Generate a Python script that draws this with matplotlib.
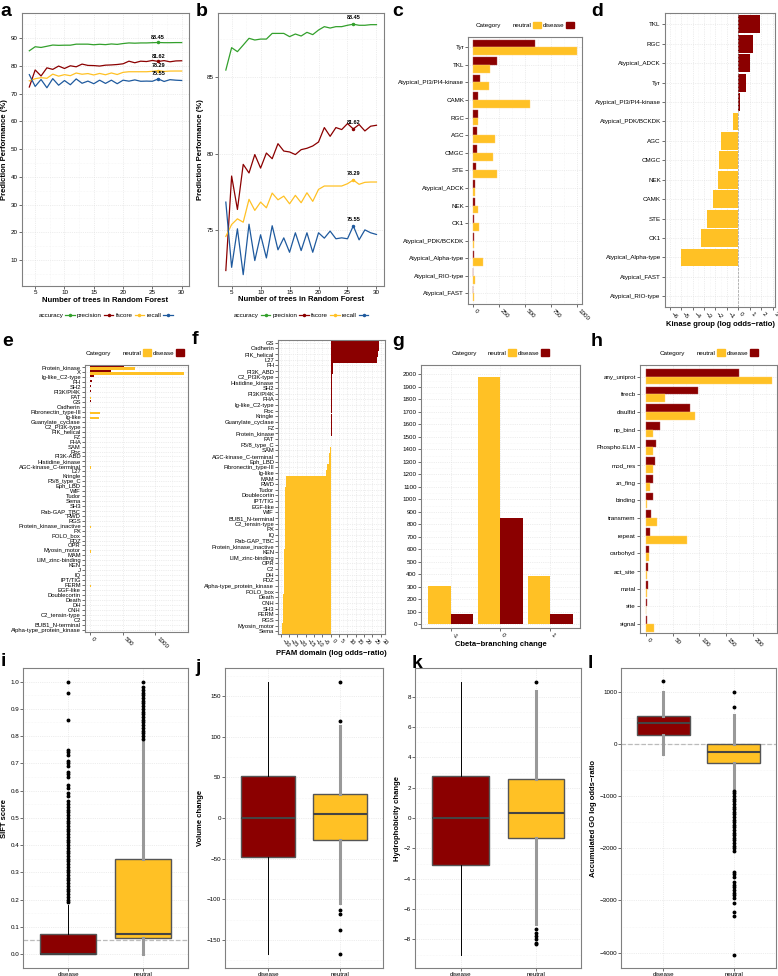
import numpy as np
import matplotlib
matplotlib.use("Agg")
import matplotlib.pyplot as plt
from matplotlib.patches import Patch
from matplotlib.lines import Line2D
from matplotlib.ticker import AutoMinorLocator, MultipleLocator

plt.rcParams['font.family'] = ['Liberation Sans', 'DejaVu Sans']

W, H = 778, 976
RED = '#8B0000'
YEL = '#FFC125'
GREEN = '#33A02C'
BLUE = '#1F5A9E'

# ---- a/b: prediction performance vs number of trees ----
n_trees = [4, 5, 6, 7, 8, 9, 10, 11, 12, 13, 14, 15, 16, 17, 18, 19, 20, 21, 22, 23, 24, 25, 26, 27, 28, 29, 30]
accuracy = [85.46, 86.92, 86.66, 87.09, 87.53, 87.42, 87.48, 87.48, 87.85, 87.85, 87.85, 87.64, 87.81, 87.68,
            87.92, 87.77, 88.07, 88.29, 88.20, 88.29, 88.29, 88.38, 88.45, 88.38, 88.38, 88.42, 88.42]
precision = [72.39, 78.55, 76.37, 79.31, 78.75, 79.95, 79.07, 80.05, 79.68, 80.66, 80.18, 80.12, 79.95, 80.27,
             80.36, 80.51, 80.77, 81.71, 81.14, 81.71, 81.58, 81.97, 81.62, 81.91, 81.49, 81.80, 81.86]
fscore = [74.61, 75.39, 75.76, 75.54, 77.03, 76.31, 76.85, 76.48, 77.44, 77.00, 77.24, 76.74, 77.29, 76.81,
          77.46, 76.90, 77.68, 77.90, 77.90, 77.90, 77.90, 78.05, 78.29, 78.01, 78.14, 78.16, 78.16]
recall = [76.85, 72.60, 75.11, 72.12, 75.41, 73.04, 74.72, 73.21, 75.31, 73.74, 74.52, 73.58, 74.85, 73.69,
          74.85, 73.58, 74.85, 74.50, 74.96, 74.46, 74.52, 74.46, 75.30, 74.39, 75.04, 74.85, 74.74]
best_tree = 26
best_text = ['88.45', '81.62', '78.29', '75.55']

# ---- c/d: kinase groups ----
kin_groups = ['Tyr', 'TKL', 'Atypical_PI3/PI4-kinase', 'CAMK', 'RGC', 'AGC', 'CMGC', 'STE', 'Atypical_ADCK',
              'NEK', 'CK1', 'Atypical_PDK/BCKDK', 'Atypical_Alpha-type', 'Atypical_RIO-type', 'Atypical_FAST']
kin_disease = [593, 231, 67, 48, 42, 32, 32, 22, 16, 10, 6, 5, 5, 0, 0]
kin_neutral = [994, 160, 151, 542, 45, 208, 189, 231, 19, 48, 58, 8, 90, 19, 5]

kin_or_groups = ['TKL', 'RGC', 'Atypical_ADCK', 'Tyr', 'Atypical_PI3/PI4-kinase', 'Atypical_PDK/BCKDK', 'AGC',
                 'CMGC', 'NEK', 'CAMK', 'STE', 'CK1', 'Atypical_Alpha-type', 'Atypical_FAST', 'Atypical_RIO-type']
kin_logodds = [1.90, 1.28, 1.04, 0.64, 0.12, -0.46, -1.54, -1.65, -1.77, -2.23, -2.72, -3.30, -5.04, 0, 0]

# ---- e/f: PFAM domains ----
e_domains = ['Protein_kinase', 'X', 'Ig-like_C2-type', 'PH', 'SH2', 'PI3K/PI4K', 'FAT', 'GS', 'Cadherin',
             'Fibronectin_type-III', 'Ig-like', 'Guanylate_cyclase', 'C2_PI3K-type', 'PIK_helical', 'FZ', 'FHA',
             'SAM', 'Roc', 'PI3K-ABD', 'Histidine_kinase', 'AGC-kinase_C-terminal', 'L27', 'Kringle',
             'F5/8_type_C', 'Eph_LBD', 'WIF', 'Tudor', 'Sema', 'SH3', 'Rab-GAP_TBC', 'RWD', 'RGS',
             'Protein_kinase_inactive', 'PX', 'POLO_box', 'PDZ', 'OPR', 'Myosin_motor', 'MAM', 'LIM_zinc-binding',
             'KEN', 'J', 'IQ', 'IPT/TIG', 'FERM', 'EGF-like', 'Doublecortin', 'Death', 'DH', 'CNH',
             'C2_tensin-type', 'C2', 'BUB1_N-terminal', 'Alpha-type_protein_kinase']
e_disease = [525, 325, 70, 30, 25, 22, 10, 12, 10, 5, 5, 8, 8, 8, 5, 5, 5, 5, 5, 5, 5, 5, 3, 3, 2,
             0, 0, 0, 0, 0, 0, 0, 0, 0, 0, 0, 0, 0, 0, 0, 0, 0, 0, 0, 0, 0, 0, 0, 0, 0, 0, 0, 0, 0]
e_neutral = [690, 1430, 10, 5, 5, 5, 20, 0, 0, 150, 140, 2, 2, 0, 2, 5, 8, 3, 3, 2, 12, 0, 2, 3, 10,
             5, 4, 10, 8, 6, 5, 8, 12, 6, 10, 7, 5, 12, 6, 7, 5, 4, 6, 7, 12, 6, 6, 8, 5, 8, 6, 5, 4, 5]

f_domains = ['GS', 'Cadherin', 'PIK_helical', 'L27', 'PH', 'PI3K_ABD', 'C2_PI3K-type', 'Histidine_kinase', 'SH2',
             'PI3K/PI4K', 'FHA', 'Ig-like_C2-type', 'Roc', 'Kringle', 'Guanylate_cyclase', 'FZ', 'Protein_kinase',
             'FAT', 'F5/8_type_C', 'SAM', 'AGC-kinase_C-terminal', 'Eph_LBD', 'Fibronectin_type-III', 'Ig-like',
             'MAM', 'RWD', 'Tudor', 'Doublecortin', 'IPT/TIG', 'EGF-like', 'WIF', 'BUB1_N-terminal',
             'C2_tensin-type', 'PX', 'IQ', 'Rab-GAP_TBC', 'Protein_kinase_inactive', 'KEN', 'LIM_zinc-binding',
             'OPR', 'C2', 'DH', 'PDZ', 'Alpha-type_protein_kinase', 'POLO_box', 'Death', 'CNH', 'SH3', 'FERM',
             'RGS', 'Myosin_motor', 'Sema']
f_logodds = [29.1, 28.7, 28.3, 27.5, 1.2, 1.1, 1.0, 1.0, 0.9, 0.9, 0.8, 0.8, 0.8, 0.7, 0.7, 0.6, 0.5,
             0.1, -0.1, -0.2, -0.8, -1.2, -2.0, -2.6,
             -27.1, -27.1, -27.2, -27.2, -27.3, -27.3, -27.3, -27.4, -27.5, -27.6, -27.6, -27.7, -27.7, -27.8,
             -27.8, -27.9, -27.9, -28.0, -28.1, -28.2, -28.3, -28.4, -28.5, -28.6, -28.8, -28.9, -29.1, -29.3]

# ---- g: cbeta branching ----
cb_change = ['-1', '0', '1']
cb_neutral = [305, 1975, 385]
cb_disease = [85, 850, 85]

# ---- h: uniprot features ----
feat_names = ['any_uniprot', 'firecb', 'disulfid', 'np_bind', 'Phospho.ELM', 'mod_res', 'zn_fing', 'binding',
              'transmem', 'repeat', 'carbohyd', 'act_site', 'metal', 'site', 'signal']
feat_disease = [174, 98, 82.5, 26, 19, 16, 14, 13, 9, 8, 6, 4, 3, 2, 2]
feat_neutral = [236, 36, 92.5, 14, 14, 12.5, 7.5, 2, 20, 77.5, 5, 2.5, 1, 0.5, 15.6]

# ---- i-l: boxplot summaries (disease, neutral) ----
box_groups = ['disease', 'neutral']
sift_q = [[0.0, 0.0, 0.0, 0.075, 0.18], [0.0, 0.06, 0.075, 0.35, 0.78]]  # whislo, q1, med, q3, whishi
sift_out_dis = [0.19, 0.20, 0.21, 0.22, 0.23, 0.24, 0.25, 0.26, 0.27, 0.28, 0.29, 0.30, 0.31, 0.32, 0.33,
                0.34, 0.35, 0.36, 0.37, 0.38, 0.39, 0.40, 0.41, 0.42, 0.43, 0.44, 0.45, 0.46, 0.47, 0.48,
                0.49, 0.50, 0.51, 0.52, 0.53, 0.54, 0.55, 0.56, 0.58, 0.59, 0.61, 0.62, 0.65, 0.66, 0.67,
                0.69, 0.70, 0.71, 0.73, 0.74, 0.75, 0.86, 0.96, 1.00]
sift_out_neu = [0.79, 0.80, 0.81, 0.82, 0.83, 0.84, 0.85, 0.86, 0.87, 0.88, 0.89, 0.90, 0.91, 0.92, 0.93,
                0.94, 0.95, 0.96, 0.97, 0.98, 1.00]
vol_q = [[-167, -48, 0, 51, 167], [-105, -27, 5, 30, 113]]
vol_out_dis = []
vol_out_neu = [119, 167, -113, -118, -138, -167]
hyd_q = [[-9.0, -3.1, 0.0, 2.8, 9.0], [-7.0, -1.3, 0.35, 2.6, 8.4]]
hyd_out_dis = []
hyd_out_neu = [9.0, -7.3, -7.6, -7.8, -8.0, -8.2, -8.3]
go_q = [[-200, 170, 400, 530, 1000], [-900, -370, -160, 0, 550]]
go_out_dis = [1200]
go_out_neu = [700, 1000, -900, -950, -1000, -1050, -1100, -1150, -1200, -1250, -1300, -1350, -1400, -1450,
              -1500, -1550, -1600, -1650, -1700, -1750, -1800, -1850, -1900, -1950, -2000, -2050, -2450, -2500,
              -2550, -2650, -2700, -2750, -2800, -2850, -2900, -2950, -3050, -3230, -3300, -4050]


def px(x0, y0, x1, y1):
    # pixel box -> figure fraction rect
    return [x0 / W, 1 - y1 / H, (x1 - x0) / W, (y1 - y0) / H]


def style(ax, xminor=True, yminor=True):
    for s in ax.spines.values():
        s.set_color('#808080')
        s.set_linewidth(0.8)
    ax.tick_params(length=2, width=0.5, color='#333333', labelsize=4.5, pad=1)
    if xminor:
        ax.xaxis.set_minor_locator(AutoMinorLocator(2))
    if yminor:
        ax.yaxis.set_minor_locator(AutoMinorLocator(2))
    ax.tick_params(which='minor', length=0)
    ax.grid(True, which='major', color='#DDDDDD', lw=0.5, ls=':')
    ax.grid(True, which='minor', color='#EEEEEE', lw=0.4, ls=':')
    ax.set_axisbelow(True)


def letter(x, y, s):
    fig.text(x / W, 1 - y / H, s, fontsize=14, fontweight='bold', va='center', ha='left')


def cat_legend(x, y):
    hs = [Patch(alpha=0), Patch(facecolor=YEL, edgecolor=YEL), Patch(facecolor=RED, edgecolor=RED)]
    fig.legend(hs, ['Category', 'neutral', 'disease'], loc='center', bbox_to_anchor=(x / W, 1 - y / H),
               ncol=3, markerfirst=False, frameon=False, fontsize=4.5, handlelength=1.3, handleheight=1.3,
               handletextpad=0.2, columnspacing=0.3)


fig = plt.figure(figsize=(W / 100, H / 100), dpi=100)

# ---------------- a & b ----------------
series = [(accuracy, GREEN, 'accuracy'), (precision, RED, 'precision'), (fscore, YEL, 'fscore'),
          (recall, BLUE, 'recall')]
rects = [px(21.7, 12.7, 189.3, 286), px(218.3, 12.7, 384, 285.7)]
for k, r in enumerate(rects):
    ax = fig.add_axes(r)
    style(ax)
    for (vals, col, name), lab in zip(series, best_text):
        ax.plot(n_trees, vals, color=col, lw=0.9)
        bi = n_trees.index(best_tree)
        ax.plot(best_tree, vals[bi], 'o', color=col, ms=1.5)
        off = 1.0 if k == 0 else 0.25
        ax.text(best_tree, vals[bi] + off, lab, fontsize=4, ha='center', va='bottom', fontweight='bold')
    ax.set_xlim(2.7, 31.3)
    ax.xaxis.set_major_locator(MultipleLocator(5))
    if k == 0:
        ax.set_ylim(0.6, 99.2)
        ax.yaxis.set_major_locator(MultipleLocator(10))
    else:
        ax.set_ylim(71.4, 89.2)
        ax.yaxis.set_major_locator(MultipleLocator(5))
    ax.set_xlabel('Number of trees in Random Forest', fontsize=5.5, fontweight='bold', labelpad=1)
    ax.set_ylabel('Prediction Performance (%)', fontsize=5.5, fontweight='bold', labelpad=2)
    hs = [Line2D([], [], color=c, lw=0.9, marker='o', ms=1.5) for _, c, _ in series]
    cx = (r[0] + r[2] / 2)
    fig.legend(hs, [n for _, _, n in series], loc='center', bbox_to_anchor=(cx, 1 - 315 / H), ncol=4,
               markerfirst=False, frameon=False, fontsize=4.5, handlelength=1.5, handletextpad=0.3,
               columnspacing=0.4)

# ---------------- c ----------------
ax = fig.add_axes(px(468.3, 36.7, 581.7, 304))
style(ax, yminor=False)
yy = np.arange(len(kin_groups))
ax.barh(yy - 0.22, kin_disease, height=0.44, color=RED, edgecolor='#b05050', lw=0.3)
ax.barh(yy + 0.22, kin_neutral, height=0.44, color=YEL, edgecolor='#ffd070', lw=0.3)
ax.set_yticks(yy)
ax.set_yticklabels(kin_groups)
ax.set_ylim(len(kin_groups) - 0.4, -0.6)
ax.set_xlim(-50, 1044)
ax.set_xticks([0, 250, 500, 750, 1000])
plt.setp(ax.get_xticklabels(), rotation=-45, ha='left', va='top')
cat_legend(525, 25)

# ---------------- d ----------------
ax = fig.add_axes(px(665, 12.7, 775, 307))
style(ax, yminor=False)
yy = np.arange(len(kin_or_groups))
cols = [RED if v > 0 else YEL for v in kin_logodds]
ax.barh(yy, kin_logodds, height=0.92, color=cols)
ax.axvline(0, color='#999999', lw=0.5, ls='--')
ax.set_yticks(yy)
ax.set_yticklabels(kin_or_groups)
ax.set_ylim(len(kin_or_groups) - 0.45, -0.6)
ax.set_xlim(-6.4, 3.2)
ax.set_xticks(range(-6, 4))
plt.setp(ax.get_xticklabels(), rotation=-45, ha='left', va='top')
ax.set_xlabel('Kinase group (log odds\u2212ratio)', fontsize=5.5, fontweight='bold', labelpad=1)

# ---------------- e ----------------
ax = fig.add_axes(px(85, 365, 188.3, 632))
style(ax, yminor=False)
yy = np.arange(len(e_domains))
ax.barh(yy - 0.22, e_disease, height=0.44, color=RED)
ax.barh(yy + 0.22, e_neutral, height=0.44, color=YEL)
ax.set_yticks(yy)
ax.set_yticklabels(e_domains, fontsize=4.2)
ax.set_ylim(len(e_domains) - 0.5, -0.5)
ax.set_xlim(-72, 1500)
ax.set_xticks([0, 500, 1000])
plt.setp(ax.get_xticklabels(), rotation=-45, ha='left', va='top')
cat_legend(135, 352.7)

# ---------------- f ----------------
ax = fig.add_axes(px(278.3, 340, 385, 634))
style(ax, yminor=False)
yy = np.arange(len(f_domains))
cols = [RED if v > 0 else YEL for v in f_logodds]
ax.barh(yy, f_logodds, height=1.0, color=cols)
ax.set_yticks(yy)
ax.set_yticklabels(f_domains, fontsize=4.2)
ax.set_ylim(len(f_domains) - 0.5, -0.5)
ax.set_xlim(-31.5, 32.5)
ax.set_xticks(range(-30, 31, 5))
plt.setp(ax.get_xticklabels(), rotation=-45, ha='left', va='top', fontsize=4)
ax.set_xlabel('PFAM domain (log odds\u2212ratio)', fontsize=5.5, fontweight='bold', labelpad=1)

# ---------------- g ----------------
ax = fig.add_axes(px(421, 365, 580, 628))
style(ax, xminor=False)
xx = np.arange(len(cb_change))
ax.bar(xx - 0.225, cb_neutral, width=0.45, color=YEL)
ax.bar(xx + 0.225, cb_disease, width=0.45, color=RED)
ax.set_xticks(xx)
ax.set_xticklabels(cb_change)
plt.setp(ax.get_xticklabels(), rotation=-45, ha='left', va='top')
ax.set_xlim(-0.6, 2.6)
ax.set_ylim(-30, 2075)
ax.yaxis.set_major_locator(MultipleLocator(100))
ax.set_xlabel('Cbeta\u2212branching change', fontsize=5.5, fontweight='bold', labelpad=1)
cat_legend(500, 352.7)

# ---------------- h ----------------
ax = fig.add_axes(px(640, 365, 776.7, 633))
style(ax, yminor=False)
yy = np.arange(len(feat_names))
ax.barh(yy - 0.22, feat_disease, height=0.44, color=RED, edgecolor='#b05050', lw=0.3)
ax.barh(yy + 0.22, feat_neutral, height=0.44, color=YEL, edgecolor='#ffd070', lw=0.3)
ax.set_yticks(yy)
ax.set_yticklabels(feat_names)
ax.set_ylim(len(feat_names) - 0.5, -0.66)
ax.set_xlim(-11.2, 245)
ax.set_xticks([0, 50, 100, 150, 200])
plt.setp(ax.get_xticklabels(), rotation=-45, ha='left', va='top')
cat_legend(709, 352.7)

# ---------------- i-l boxplots ----------------
boxes = [
    (px(23.3, 668.3, 188.3, 968.3), sift_q, [sift_out_dis, sift_out_neu], 'SIFT score', (-0.0525, 1.049), 0.1, 0.05,
     ['#000000', '#999999']),
    (px(225, 668.3, 383.3, 968.3), vol_q, [vol_out_dis, vol_out_neu], 'Volume change', (-185, 184), 50, None,
     ['#000000', '#999999']),
    (px(415.3, 668.3, 581.3, 968.3), hyd_q, [hyd_out_dis, hyd_out_neu], 'Hydrophobicity change', (-9.9, 9.87), 2,
     None, ['#000000', '#999999']),
    (px(621.3, 668.3, 776, 968.3), go_q, [go_out_dis, go_out_neu], 'Accumulated GO log odds\u2212ratio',
     (-4299, 1448), 1000, 0, ['#999999', '#999999']),
]
for r, q, outs, ylab, ylim, step, hline, wcols in boxes:
    ax = fig.add_axes(r)
    style(ax, xminor=False)
    if hline is not None:
        ax.axhline(hline, color='#BBBBBB', lw=0.9, ls='--', zorder=1)
    for j in range(2):
        st = dict(whislo=q[j][0], q1=q[j][1], med=q[j][2], q3=q[j][3], whishi=q[j][4], fliers=outs[j],
                  label=box_groups[j])
        thick = wcols[j] != '#000000'
        ax.bxp([st], positions=[j + 1], widths=0.75, patch_artist=True, showcaps=False,
               boxprops=dict(facecolor=RED if j == 0 else YEL, edgecolor='#555555', lw=1.0),
               medianprops=dict(color='#444444', lw=1.5),
               whiskerprops=dict(color=wcols[j], lw=2.2 if thick else 0.7),
               flierprops=dict(marker='o', markerfacecolor='black', markeredgecolor='black', markersize=1.8))
    ax.set_xlim(0.4, 2.6)
    ax.set_ylim(*ylim)
    ax.yaxis.set_major_locator(MultipleLocator(step))
    ax.set_xticks([1, 2])
    ax.set_xticklabels(box_groups)
    ax.set_ylabel(ylab, fontsize=5.5, fontweight='bold', labelpad=2)

for x, y, s in [(0, 12, 'a'), (196, 12, 'b'), (392, 12, 'c'), (591, 12, 'd'),
                (2, 342, 'e'), (192, 339, 'f'), (392, 342, 'g'), (591, 342, 'h'),
                (1, 662, 'i'), (195, 668, 'j'), (412, 663, 'k'), (588, 664, 'l')]:
    letter(x, y, s)

fig.savefig('out.png', dpi=100)
